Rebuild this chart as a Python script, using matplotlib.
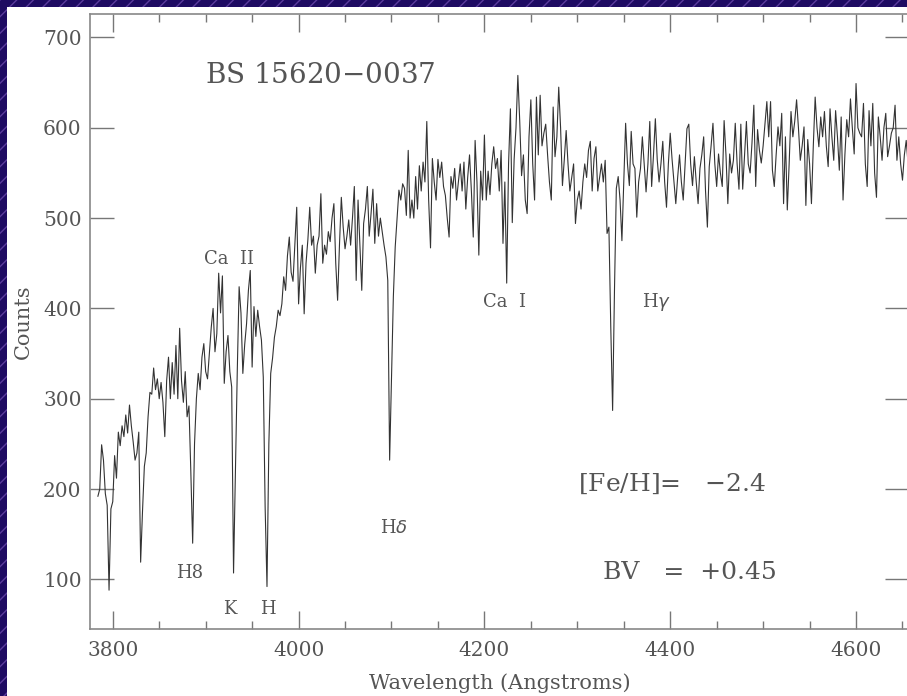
import numpy as np
import matplotlib
matplotlib.use("Agg")
import matplotlib.pyplot as plt
from matplotlib.patches import Rectangle

# spectrum of BS 15620-0037, counts every 2 Angstrom
wave_start = 3784
wave_step = 2
counts = [
    192, 200, 249, 232, 195, 182, 88, 178, 186, 237,    # 3784
    212, 263, 248, 270, 258, 282, 262, 293, 270, 252,   # 3804
    232, 240, 263, 119, 175, 225, 240, 280, 307, 305,   # 3824
    334, 310, 322, 300, 318, 296, 258, 320, 346, 300,   # 3844
    340, 305, 359, 300, 378, 320, 296, 330, 280, 292,   # 3864
    220, 140, 250, 300, 328, 310, 346, 361, 330, 322,   # 3884
    350, 379, 400, 352, 372, 439, 395, 436, 317, 352,   # 3904
    370, 330, 313, 107, 220, 330, 424, 395, 328, 360,   # 3924
    383, 420, 442, 335, 402, 369, 398, 380, 365, 324,   # 3944
    180, 92, 250, 328, 345, 368, 380, 398, 392, 405,    # 3964
    435, 420, 458, 479, 440, 430, 470, 512, 405, 445,   # 3984
    470, 394, 450, 476, 512, 470, 480, 439, 470, 480,   # 4004
    527, 450, 470, 460, 485, 474, 500, 516, 450, 409,   # 4024
    470, 523, 490, 466, 480, 498, 470, 500, 535, 431,   # 4044
    520, 470, 420, 494, 510, 535, 480, 505, 532, 472,   # 4064
    516, 480, 500, 485, 470, 457, 431, 232, 320, 413,   # 4084
    468, 500, 531, 520, 538, 533, 503, 575, 500, 520,   # 4104
    500, 546, 510, 558, 530, 562, 540, 607, 520, 467,   # 4124
    566, 540, 520, 565, 545, 562, 535, 525, 500, 479,   # 4144
    546, 533, 555, 520, 540, 560, 530, 562, 510, 545,   # 4164
    570, 530, 479, 586, 540, 459, 552, 520, 592, 520,   # 4184
    552, 526, 560, 579, 555, 566, 530, 575, 472, 540,   # 4204
    428, 560, 621, 495, 565, 600, 658, 608, 547, 570,   # 4224
    520, 505, 590, 631, 560, 520, 634, 570, 636, 580,   # 4244
    594, 604, 570, 540, 520, 623, 568, 590, 645, 600,   # 4264
    536, 565, 597, 560, 530, 545, 560, 494, 520, 530,   # 4284
    510, 540, 560, 545, 575, 585, 530, 566, 579, 530,   # 4304
    545, 560, 540, 564, 483, 490, 380, 287, 420, 533,   # 4324
    546, 520, 475, 540, 605, 560, 536, 596, 560, 555,   # 4344
    501, 540, 555, 590, 560, 529, 560, 607, 535, 570,   # 4364
    610, 565, 540, 560, 585, 540, 512, 560, 594, 565,   # 4384
    540, 516, 545, 570, 540, 520, 560, 599, 604, 560,   # 4404
    536, 568, 540, 516, 555, 570, 590, 530, 490, 557,   # 4424
    580, 605, 560, 535, 571, 550, 535, 608, 570, 516,   # 4444
    571, 550, 564, 605, 560, 532, 604, 532, 570, 607,   # 4464
    560, 550, 583, 625, 535, 598, 575, 561, 580, 605,   # 4484
    629, 590, 629, 553, 535, 570, 601, 580, 616, 516,   # 4504
    590, 509, 560, 618, 590, 607, 631, 600, 564, 580,   # 4524
    601, 514, 587, 560, 516, 580, 634, 600, 579, 612,   # 4544
    590, 618, 580, 557, 621, 590, 564, 619, 590, 553,   # 4564
    612, 520, 570, 609, 590, 632, 600, 571, 649, 600,   # 4584
    594, 590, 627, 560, 535, 619, 580, 627, 550, 523,   # 4604
    612, 590, 564, 600, 616, 568, 580, 594, 600, 625,   # 4624
    564, 590, 560, 542, 570, 586, 560,                  # 4644
]
wave = wave_start + wave_step * np.arange(len(counts))

# line identifications: (label, wavelength, counts)
line_labels = ["Ca  II", "Ca  I", r"H$\gamma$", "H8", "K", "H", r"H$\delta$"]
label_wave = [3925, 4222, 4385, 3883, 3926, 3967, 4103]
label_counts = [455, 407, 407, 107, 67, 67, 157]

star_name = "BS 15620$-$0037"
feh_text = "[Fe/H]=   $-$2.4"
bv_text = "BV   =  +0.45"

xmin, xmax = 3775.5, 4657
ymin, ymax = 45, 726

grey = "#555555"
fnt = "DejaVu Serif"

fig = plt.figure(figsize=(9.07, 6.96), dpi=100, facecolor="#1e0b62")
# hatched dark border, white panel
fig.patches.append(Rectangle((0, 0), 1, 1, transform=fig.transFigure,
                             facecolor="#1e0b62", edgecolor="#5b3c9c",
                             hatch="//", lw=0, zorder=-3))
fig.patches.append(Rectangle((7 / 907, 0), 1, 1 - 7 / 696, transform=fig.transFigure,
                             facecolor="white", edgecolor="none", zorder=-2))

ax = fig.add_axes([90 / 907, 67 / 696, 819 / 907, 615 / 696])
ax.set_facecolor("white")
ax.plot(wave, counts, color="#333333", lw=0.8)
ax.set_xlim(xmin, xmax)
ax.set_ylim(ymin, ymax)

ax.set_xticks([3800, 4000, 4200, 4400, 4600])
ax.set_xticks(np.arange(3800, 4660, 50), minor=True)
ax.set_yticks([100, 200, 300, 400, 500, 600, 700])
ax.tick_params(axis="both", which="both", direction="in", top=True, right=True,
               color="#777777", width=1.0, labelcolor=grey)
ax.tick_params(axis="x", which="major", length=13, pad=9, labelsize=14.5)
ax.tick_params(axis="x", which="minor", length=6)
ax.tick_params(axis="y", which="major", length=17, pad=6, labelsize=14.5)
for lab in ax.get_xticklabels() + ax.get_yticklabels():
    lab.set_family(fnt)
for sp in ax.spines.values():
    sp.set_color("#888888")
    sp.set_linewidth(1.2)

ax.text(3899, 658, star_name, fontsize=20, family=fnt, color=grey, va="center")
for lab, lx, ly in zip(line_labels, label_wave, label_counts):
    ax.text(lx, ly, lab, fontsize=13, family=fnt, color=grey, ha="center", va="center")
ax.text(4301, 206, feh_text, fontsize=18, family=fnt, color=grey, va="center")
ax.text(4328, 108, bv_text, fontsize=18, family=fnt, color=grey, va="center")

fig.text(500 / 907, 1 - 683 / 696, "Wavelength (Angstroms)", fontsize=15,
         family=fnt, color=grey, ha="center", va="center")
fig.text(23 / 907, 1 - 322 / 696, "Counts", fontsize=15, family=fnt, color=grey,
         ha="center", va="center", rotation=90)

fig.savefig("out.png", dpi=100, facecolor=fig.get_facecolor())
